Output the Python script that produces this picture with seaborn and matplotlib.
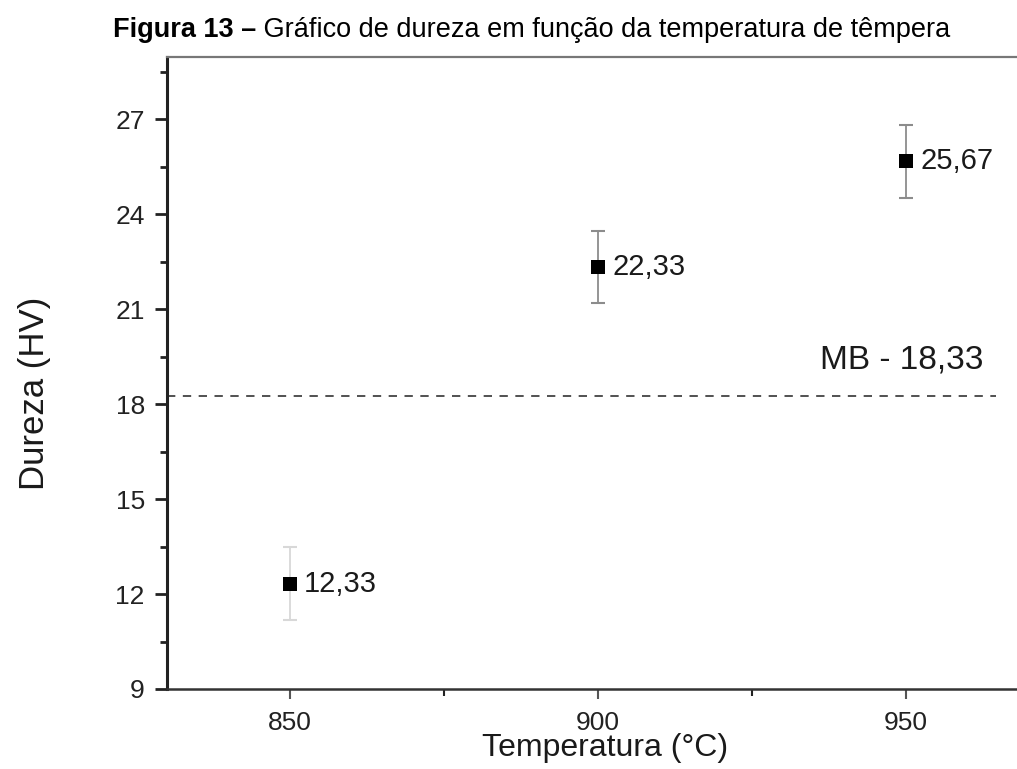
import matplotlib
matplotlib.use("Agg")
import matplotlib.pyplot as plt
from matplotlib.ticker import MultipleLocator
import seaborn as sns
import pandas as pd

# ---- data ----
temperatures = [850, 900, 950]
hardness = [12.33, 22.33, 25.67]
hardness_err = [1.15, 1.15, 1.15]
point_labels = ["12,33", "22,33", "25,67"]
mb_value_line = 18.25
mb_label = "MB - 18,33"
y_ticks = [9, 12, 15, 18, 21, 24, 27]
x_ticks = [850, 900, 950]
title_bold = "Figura 13 –"
title_rest = " Gráfico de dureza em função da temperatura de têmpera"
xlabel = "Temperatura (°C)"
ylabel = "Dureza (HV)"

sns.set_theme(style="white")
plt.rcParams['font.family'] = ['Liberation Sans', 'DejaVu Sans']

df = pd.DataFrame({"Temperatura": temperatures, "Dureza": hardness})

W, H = 1017, 769
fig = plt.figure(figsize=(W / 100, H / 100), dpi=100)
left_px, top_px, bottom_px = 167, 57, 689
xmin, xmax = 830, 970
px_per_unit = 308 / 50
right_px = left_px + (xmax - xmin) * px_per_unit
ax = fig.add_axes([left_px / W, 1 - bottom_px / H,
                   (right_px - left_px) / W, (bottom_px - top_px) / H])

# error bars
err_colors = ["#d8d8d8", "#8c8c8c", "#8c8c8c"]
for t, h, e, c in zip(temperatures, hardness, hardness_err, err_colors):
    ax.errorbar([t], [h], yerr=[e], fmt="none", ecolor=c, elinewidth=1.3,
                capsize=4.8, capthick=1.5, zorder=2)

sns.scatterplot(data=df, x="Temperatura", y="Dureza", marker="s", s=110,
                color="black", edgecolor="black", linewidth=0, ax=ax, zorder=3)

for t, h, lab in zip(temperatures, hardness, point_labels):
    ax.annotate(lab, (t, h), xytext=(10, 0), textcoords="offset points",
                ha="left", va="center", fontsize=21, color="#1a1a1a")

ax.hlines(mb_value_line, xmin, 964.5, color="#333333", linestyle=(0, (5, 4.5)),
          linewidth=1.2, zorder=1)
ax.text(936, 19.4, mb_label, fontsize=24, color="#1a1a1a", ha="left", va="center")

ax.set_xlim(xmin, xmax)
ax.set_ylim(9, 28.96)
ax.set_yticks(y_ticks)
ax.set_xticks(x_ticks)
ax.yaxis.set_minor_locator(MultipleLocator(1.5))
ax.xaxis.set_minor_locator(MultipleLocator(25))

ax.tick_params(axis="y", which="major", direction="out", length=9, width=2,
               color="#222222", labelsize=19, labelcolor="#222222", pad=7, left=True)
ax.tick_params(axis="y", which="minor", direction="out", length=5, width=2,
               color="#222222", left=True)
ax.tick_params(axis="x", which="major", direction="out", length=7, width=1.5,
               color="#555555", labelsize=19, labelcolor="#222222", pad=9, bottom=True)
ax.tick_params(axis="x", which="minor", direction="out", length=5, width=1.5,
               color="#222222", bottom=True)

ax.spines["left"].set_linewidth(2.2)
ax.spines["left"].set_color("#222222")
ax.spines["bottom"].set_linewidth(1.8)
ax.spines["bottom"].set_color("#333333")
ax.spines["top"].set_linewidth(1.6)
ax.spines["top"].set_color("#777777")
ax.spines["right"].set_visible(False)

ax.set_xlabel("")
ax.set_ylabel("")
fig.text(605 / W, 1 - 748 / H, xlabel, fontsize=23, ha="center", va="center", color="#1a1a1a")
fig.text(35 / W, 1 - 393 / H, ylabel, fontsize=25, ha="center", va="center",
         rotation=90, color="#1a1a1a")

# title in two parts
fig.canvas.draw()
renderer = fig.canvas.get_renderer()
t1 = fig.text(113 / W, 1 - 37 / H, title_bold, fontsize=19.5, fontweight="bold",
              ha="left", va="baseline", color="black")
bb = t1.get_window_extent(renderer=renderer)
fig.text(bb.x1 / W, 1 - 37 / H, title_rest, fontsize=19.5, ha="left",
         va="baseline", color="black")

fig.savefig("out.png", dpi=100)
